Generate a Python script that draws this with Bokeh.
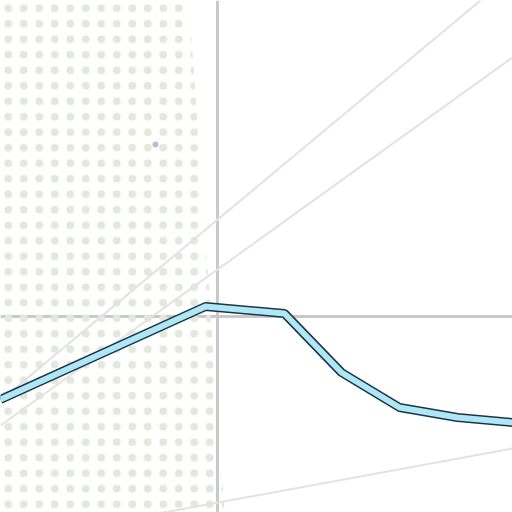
from bokeh.plotting import figure
from bokeh.models import Range1d, Span
from bokeh.embed import file_html
from bokeh.resources import INLINE

# Data (arbitrary units; reference lines at x=0 and y=0)
series_x = [-4.34, -0.24, 1.34, 2.48, 3.64, 4.80, 5.90]
series_y = [-1.66, 0.20, 0.06, -1.12, -1.82, -2.02, -2.12]

region_x = [-4.74, -0.60, 0.18, -4.74]
region_y = [6.72, 6.72, -4.48, -4.48]

ray_a_x = [-4.34, 5.26]
ray_a_y = [-1.68, 6.32]
ray_b_x = [-4.34, 5.90]
ray_b_y = [-2.18, 5.18]
ray_c_x = [-4.34, 5.90]
ray_c_y = [-4.52, -2.64]

point_x = [-1.24]
point_y = [3.44]

p = figure(width=512, height=512, output_backend="svg", toolbar_location=None,
           x_range=Range1d(-4.34, 5.90), y_range=Range1d(-3.92, 6.32),
           min_border=0, border_fill_color="white", background_fill_color="white")
p.axis.visible = False
p.grid.visible = False
p.outline_line_color = None

p.add_layout(Span(location=0, dimension="height", line_color="#c9c9c9", line_width=3, level="underlay"))
p.add_layout(Span(location=0, dimension="width", line_color="#c9c9c9", line_width=3, level="underlay"))

p.patch(region_x, region_y, fill_color=None, line_color=None,
        hatch_pattern="dot", hatch_color="#e2e8da", hatch_scale=15.5, hatch_weight=4)

for xs, ys in ((ray_a_x, ray_a_y), (ray_b_x, ray_b_y), (ray_c_x, ray_c_y)):
    p.line(xs, ys, line_color="#e2e2e2", line_width=2)

p.scatter(point_x, point_y, size=6, fill_color="#b5c0d0", line_color=None)

p.line(series_x, series_y, line_color="#1e3440", line_width=9)
p.line(series_x, series_y, line_color="#aee8f8", line_width=6)

open("out.html", "w").write(file_html(p, INLINE))
